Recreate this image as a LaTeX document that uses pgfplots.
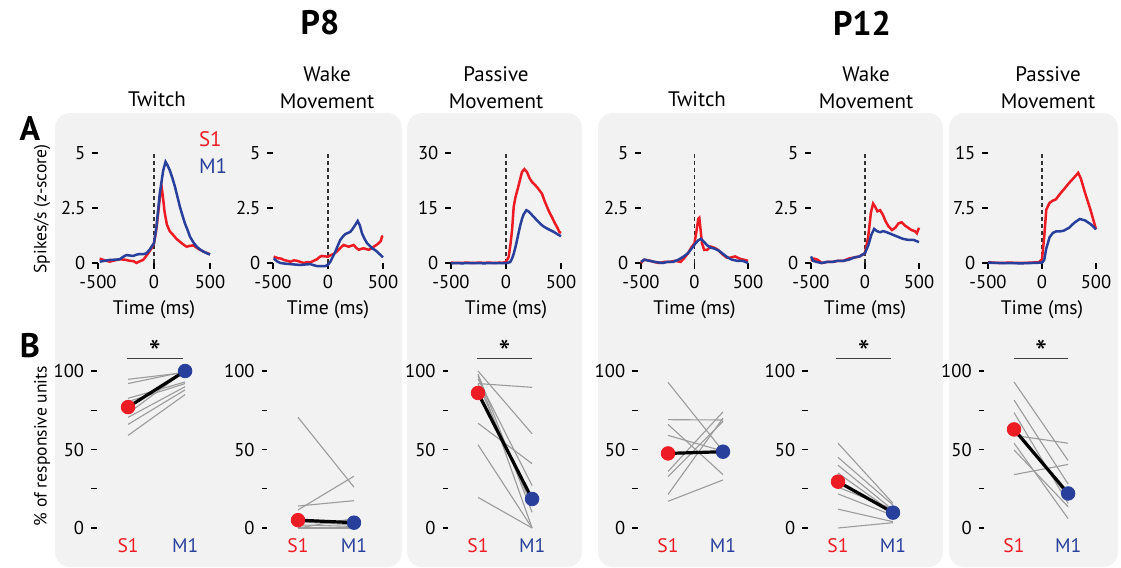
\documentclass[border=0pt]{standalone}
\usepackage{pgfplots}
\pgfplotsset{compat=1.18}
\usepackage{fontspec}
\setmainfont{PT Sans}
\definecolor{sred}{RGB}{237,28,36}
\definecolor{mblue}{RGB}{40,64,156}
\definecolor{panelbg}{RGB}{242,242,242}
\definecolor{indiv}{RGB}{155,155,155}
\tikzset{sigstar/.style={font=\fontsize{17}{18}\selectfont}}
\pgfplotsset{
  base/.style={scale only axis, clip=false, anchor=south west,
    axis x line*=bottom, axis y line*=left, axis line style={draw=none},
    tick style={black, line width=0.6pt}, tick align=outside, major tick length=2.8pt,
    ticklabel style={font=\fontsize{9.3}{10}\selectfont},
    /pgf/number format/assume math mode=true},
  top/.style={base, height=55pt, xmin=-500, xmax=500, ymin=0, xtick={-500,0,500},
    xlabel={Time (ms)}, xlabel style={font=\fontsize{9.8}{11}\selectfont, at={(axis description cs:0.5,0)}, anchor=center, yshift=-23.5pt}},
  bot/.style={base, height=78.5pt, xmin=-0.55, xmax=1, ymin=0, ymax=100,
    xtick={0,1}, xticklabels={{\color{sred}S1},{\color{mblue}M1}},
    xticklabel style={font=\fontsize{9.8}{11}\selectfont, yshift=1pt},
    x tick style={draw=none},
    ytick={0,25,50,75,100}, yticklabels={0,,50,,100}},
  rc/.style={sred, line width=1.25pt},
  bc/.style={mblue, line width=1.25pt},
  zl/.style={black!80, dashed, dash pattern=on 2pt off 1.5pt, line width=0.6pt},
  ind/.style={indiv, line width=0.55pt},
  mn/.style={black, line width=1.6pt},
  rd/.style={only marks, mark=*, mark size=3.4pt, sred, mark options={fill=sred, draw=none}},
  bd/.style={only marks, mark=*, mark size=3.4pt, mblue, mark options={fill=mblue, draw=none}},
}
\begin{document}
\begin{tikzpicture}[x=0.5pt, y=-0.5pt]
\path[use as bounding box] (0,0) rectangle (1121,568);
% panels
\fill[panelbg, rounded corners=7.5pt] (55,113) rectangle (402,567);
\fill[panelbg, rounded corners=7.5pt] (407,113) rectangle (582,567);
\fill[panelbg, rounded corners=7.5pt] (598,113) rectangle (943,567);
\fill[panelbg, rounded corners=7.5pt] (949,113) rectangle (1118,567);
% titles
\node[font=\fontsize{17}{20}\selectfont\bfseries] at (320,23) {P8};
\node[font=\fontsize{17}{20}\selectfont\bfseries] at (862,23) {P12};
\node[font=\fontsize{17}{18}\selectfont\bfseries] at (30,129) {A};
\node[font=\fontsize{17}{18}\selectfont\bfseries] at (30,346) {B};
\begin{scope}[font=\fontsize{10.5}{13}\selectfont]
\node at (157,99) {Twitch};
\node at (327,74) {Wake};
\node at (327,101) {Movement};
\node at (496,74) {Passive};
\node at (496,101) {Movement};
\node at (697,99) {Twitch};
\node at (866,74) {Wake};
\node at (866,101) {Movement};
\node at (1048,74) {Passive};
\node at (1048,101) {Movement};
\node[sred, anchor=west] at (192,139) {S1};
\node[mblue, anchor=west] at (192,166) {M1};
\end{scope}
\node[rotate=90, font=\fontsize{8.8}{10}\selectfont] at (42,209) {Spikes/s (z-score)};
\node[rotate=90, font=\fontsize{8.8}{10}\selectfont] at (42,446) {\% of responsive units};

% ---------- Row A ----------
% P8 twitch
\begin{axis}[top, at={(98*0.5pt,-263*0.5pt)}, width=56pt, ymax=5, ytick={0,2.5,5}]
\addplot[zl] coordinates {(0,0) (0,5.05)};
\addplot[rc] coordinates {(-485,0.2) (-440,0.12) (-396,0.06) (-350,0.12) (-306,0.17) (-260,0.15) (-216,0.1) (-180,0.08) (-157,0.0) (-127,0.08) (-97,0.14) (-75,0.28) (-52,0.44) (-22,0.67) (0,0.9) (20,1.5) (40,2.4) (55,3.1) (67,3.5) (80,3.0) (95,2.3) (115,1.75) (140,1.45) (172,1.27) (200,1.1) (231,0.97) (260,0.85) (291,0.74) (320,0.78) (351,0.8) (380,0.7) (410,0.6) (450,0.5) (500,0.4)};
\addplot[bc] coordinates {(-485,0.06) (-440,0.1) (-396,0.14) (-350,0.15) (-306,0.17) (-270,0.3) (-246,0.36) (-215,0.34) (-187,0.32) (-155,0.38) (-127,0.41) (-97,0.4) (-67,0.44) (-40,0.6) (-22,0.74) (0,0.9) (22,1.65) (52,3.17) (82,4.2) (103,4.6) (120,4.45) (142,4.2) (165,3.85) (187,3.47) (210,3.0) (231,2.56) (255,2.15) (276,1.8) (300,1.5) (321,1.2) (350,0.95) (381,0.74) (410,0.62) (440,0.52) (470,0.45) (500,0.38)};
\end{axis}
% P8 wake
\begin{axis}[top, at={(273*0.5pt,-263*0.5pt)}, width=55pt, ymax=5, ytick={0,2.5,5}]
\addplot[zl] coordinates {(0,0) (0,5.05)};
\addplot[rc] coordinates {(-494,0.29) (-470,0.25) (-448,0.21) (-425,0.2) (-403,0.14) (-370,0.1) (-342,0.06) (-310,0.12) (-282,0.1) (-250,0.05) (-221,0.0) (-190,0.04) (-161,0.03) (-130,0.1) (-100,0.17) (-75,0.28) (-55,0.32) (-30,0.3) (0,0.29) (25,0.36) (52,0.41) (75,0.5) (97,0.6) (120,0.72) (142,0.82) (165,0.78) (188,0.74) (210,0.78) (233,0.82) (255,0.7) (279,0.6) (300,0.64) (324,0.67) (350,0.63) (370,0.6) (395,0.66) (415,0.74) (440,0.82) (461,0.9) (480,1.0) (491,1.2) (500,1.23)};
\addplot[bc] coordinates {(-494,0.21) (-465,0.08) (-433,0.0) (-390,-0.03) (-342,-0.05) (-300,-0.07) (-252,-0.09) (-210,-0.07) (-161,-0.05) (-130,-0.1) (-100,-0.14) (-60,-0.14) (-24,-0.14) (0,-0.08) (21,0.06) (45,0.3) (67,0.52) (90,0.8) (112,1.05) (135,1.2) (158,1.32) (180,1.36) (203,1.42) (220,1.52) (233,1.62) (250,1.75) (270,1.91) (290,1.7) (309,1.35) (330,1.12) (355,0.9) (380,0.78) (400,0.67) (425,0.6) (445,0.52) (470,0.4) (500,0.26)};
\end{axis}
% P8 passive
\begin{axis}[top, at={(451*0.5pt,-263*0.5pt)}, width=55pt, ymax=30, ytick={0,15,30}]
\addplot[zl] coordinates {(0,0) (0,30.3)};
\addplot[rc] coordinates {(-500,0.1) (-450,0.0) (-400,0.05) (-350,0.1) (-300,0.0) (-250,0.1) (-200,0.05) (-150,0.1) (-100,0.0) (-60,0.1) (-30,0.05) (0,0.3) (24,1.6) (40,5.0) (55,8.9) (70,15.3) (85,17.8) (100,19.5) (115,21.2) (130,23.0) (145,24.8) (167,25.6) (191,24.8) (213,23.2) (236,22.1) (260,21.4) (282,20.7) (305,19.8) (327,18.9) (350,17.0) (373,15.3) (395,13.8) (418,12.5) (440,11.1) (464,9.8) (485,8.5) (500,8.2)};
\addplot[bc] coordinates {(-500,-0.1) (-450,0.0) (-400,-0.1) (-350,0.0) (-300,-0.05) (-250,0.0) (-200,-0.1) (-150,0.0) (-100,-0.05) (-50,0.0) (0,0.0) (20,0.05) (39,0.3) (55,1.2) (70,2.5) (85,4.2) (100,6.2) (115,8.3) (130,10.3) (145,12.0) (161,13.3) (185,14.4) (203,14.1) (221,13.6) (245,12.8) (267,12.1) (290,11.4) (312,10.7) (340,10.0) (373,9.4) (400,9.0) (433,8.5) (465,7.9) (500,7.3)};
\end{axis}
% P12 twitch
\begin{axis}[top, at={(641*0.5pt,-263*0.5pt)}, width=53.5pt, ymax=5, ytick={0,2.5,5}]
\addplot[zl] coordinates {(0,0) (0,5.05)};
\addplot[rc] coordinates {(-500,0.0) (-470,0.15) (-430,0.12) (-380,0.05) (-330,0.0) (-280,0.05) (-230,0.05) (-180,0.1) (-130,0.05) (-100,0.2) (-60,0.45) (-30,0.7) (0,0.9) (20,1.5) (35,2.0) (45,2.05) (55,1.6) (70,0.9) (90,0.6) (120,0.6) (150,0.75) (180,0.7) (220,0.6) (260,0.4) (300,0.25) (340,0.25) (380,0.3) (420,0.2) (460,0.15) (500,0.1)};
\addplot[bc] coordinates {(-500,0.05) (-470,0.15) (-420,0.1) (-370,0.05) (-300,0.0) (-250,0.05) (-200,0.05) (-150,0.15) (-100,0.3) (-60,0.45) (-20,0.7) (10,0.9) (40,1.05) (60,1.1) (90,0.95) (120,0.8) (150,0.7) (190,0.65) (230,0.55) (270,0.4) (310,0.25) (350,0.15) (400,0.1) (450,0.1) (500,0.0)};
\end{axis}
% P12 wake
\begin{axis}[top, at={(811*0.5pt,-263*0.5pt)}, width=54pt, ymax=5, ytick={0,2.5,5}]
\addplot[zl] coordinates {(0,0) (0,5.05)};
\addplot[rc] coordinates {(-500,0.1) (-470,0.2) (-440,0.15) (-400,0.0) (-350,0.05) (-300,0.05) (-250,0.1) (-200,0.1) (-150,0.2) (-100,0.25) (-50,0.3) (0,0.45) (30,1.2) (55,2.3) (75,2.7) (95,2.55) (115,2.35) (140,2.4) (165,2.2) (190,1.9) (220,1.65) (250,1.5) (280,1.6) (310,1.8) (340,1.85) (370,1.7) (400,1.6) (430,1.5) (460,1.45) (480,1.35) (500,1.6)};
\addplot[bc] coordinates {(-500,0.3) (-480,0.1) (-450,0.05) (-400,0.0) (-350,0.05) (-300,0.05) (-250,0.1) (-200,0.1) (-150,0.15) (-100,0.25) (-50,0.3) (0,0.45) (30,0.8) (60,1.3) (85,1.55) (110,1.45) (140,1.4) (170,1.45) (200,1.4) (250,1.3) (300,1.2) (350,1.1) (400,1.05) (450,1.05) (500,0.95)};
\end{axis}
% P12 passive
\begin{axis}[top, at={(988*0.5pt,-263*0.5pt)}, width=54pt, ymax=15, ytick={0,7.5,15}]
\addplot[zl] coordinates {(0,0) (0,15.15)};
\addplot[rc] coordinates {(-500,0.1) (-450,0.05) (-400,0.0) (-300,0.05) (-200,0.0) (-100,0.05) (-30,0.1) (0,0.5) (20,3.5) (40,7.3) (70,8.2) (100,8.5) (130,8.7) (160,9.3) (200,10.0) (250,10.9) (300,11.7) (335,12.3) (360,11.5) (400,9.5) (450,7.2) (500,4.6)};
\addplot[bc] coordinates {(-500,0.05) (-400,0.0) (-300,0.0) (-200,-0.05) (-100,0.0) (0,0.05) (20,0.4) (40,2.0) (70,3.5) (100,4.1) (130,4.3) (160,4.3) (200,4.4) (250,4.8) (300,5.5) (350,6.0) (400,5.8) (450,5.3) (500,4.6)};
\end{axis}

% ---------- Row B ----------
% P8 twitch
\begin{axis}[bot, at={(96.7*0.5pt,-528*0.5pt)}, width=44.2pt]
\addplot[ind] coordinates {(0,94.7) (1,99)};
\addplot[ind] coordinates {(0,92) (1,99.6)};
\addplot[ind] coordinates {(0,82.6) (1,93)};
\addplot[ind] coordinates {(0,80.5) (1,92)};
\addplot[ind] coordinates {(0,73) (1,100)};
\addplot[ind] coordinates {(0,70.5) (1,90)};
\addplot[ind] coordinates {(0,66) (1,88)};
\addplot[ind] coordinates {(0,59) (1,85)};
\addplot[mn] coordinates {(0,77) (1,100)};
\addplot[rd] coordinates {(0,77)};
\addplot[bd] coordinates {(1,100)};
\draw[black!75, line width=0.6pt] (axis cs:-0.02,108) -- (axis cs:0.96,108);
\node[sigstar] at (axis cs:0.47,112) {*};
\end{axis}
% P8 wake
\begin{axis}[bot, at={(267.2*0.5pt,-528*0.5pt)}, width=43.4pt]
\addplot[ind] coordinates {(0,70.5) (1,26)};
\addplot[ind] coordinates {(0,11.5) (1,33)};
\addplot[ind] coordinates {(0,14) (1,17.4)};
\addplot[ind] coordinates {(0,0) (1,6)};
\addplot[ind] coordinates {(0,2) (1,1)};
\addplot[ind] coordinates {(0,0) (1,0)};
\addplot[ind] coordinates {(0,4) (1,2)};
\addplot[mn] coordinates {(0,5) (1,3.4)};
\addplot[rd] coordinates {(0,5)};
\addplot[bd] coordinates {(1,3.4)};
\end{axis}
% P8 passive
\begin{axis}[bot, at={(448.3*0.5pt,-528*0.5pt)}, width=41.9pt]
\addplot[ind] coordinates {(0,100) (1,60)};
\addplot[ind] coordinates {(0,98) (1,10)};
\addplot[ind] coordinates {(0,97) (1,0)};
\addplot[ind] coordinates {(0,92) (1,89.6)};
\addplot[ind] coordinates {(0,66.7) (1,41)};
\addplot[ind] coordinates {(0,53) (1,0)};
\addplot[ind] coordinates {(0,19.5) (1,0)};
\addplot[ind] coordinates {(0,95) (1,27)};
\addplot[ind] coordinates {(0,92) (1,14)};
\addplot[mn] coordinates {(0,86) (1,18.5)};
\addplot[rd] coordinates {(0,86)};
\addplot[bd] coordinates {(1,18.5)};
\draw[black!75, line width=0.6pt] (axis cs:-0.02,108) -- (axis cs:1,108);
\node[sigstar] at (axis cs:0.49,112) {*};
\end{axis}
% P12 twitch
\begin{axis}[bot, at={(637.8*0.5pt,-528*0.5pt)}, width=42.6pt]
\addplot[ind] coordinates {(0,92.8) (1,49)};
\addplot[ind] coordinates {(0,69) (1,68.8)};
\addplot[ind] coordinates {(0,66) (1,34)};
\addplot[ind] coordinates {(0,59) (1,49)};
\addplot[ind] coordinates {(0,36) (1,74)};
\addplot[ind] coordinates {(0,32.7) (1,68)};
\addplot[ind] coordinates {(0,21.4) (1,70)};
\addplot[ind] coordinates {(0,17) (1,30.6)};
\addplot[mn] coordinates {(0,47.5) (1,48.6)};
\addplot[rd] coordinates {(0,47.5)};
\addplot[bd] coordinates {(1,48.6)};
\end{axis}
% P12 wake
\begin{axis}[bot, at={(807.8*0.5pt,-528*0.5pt)}, width=42.6pt]
\addplot[ind] coordinates {(0,54) (1,15.7)};
\addplot[ind] coordinates {(0,45) (1,14.6)};
\addplot[ind] coordinates {(0,40) (1,11.5)};
\addplot[ind] coordinates {(0,35) (1,10)};
\addplot[ind] coordinates {(0,26) (1,12)};
\addplot[ind] coordinates {(0,21.7) (1,8)};
\addplot[ind] coordinates {(0,12) (1,4)};
\addplot[ind] coordinates {(0,0) (1,3.4)};
\addplot[mn] coordinates {(0,29.5) (1,9.8)};
\addplot[rd] coordinates {(0,29.5)};
\addplot[bd] coordinates {(1,9.8)};
\draw[black!75, line width=0.6pt] (axis cs:-0.04,108) -- (axis cs:0.96,108);
\node[sigstar] at (axis cs:0.47,112) {*};
\end{axis}
% P12 passive
\begin{axis}[bot, at={(984.3*0.5pt,-528*0.5pt)}, width=41.9pt]
\addplot[ind] coordinates {(0,93) (1,43)};
\addplot[ind] coordinates {(0,81.5) (1,28)};
\addplot[ind] coordinates {(0,73.5) (1,15.7)};
\addplot[ind] coordinates {(0,59) (1,54)};
\addplot[ind] coordinates {(0,54) (1,6)};
\addplot[ind] coordinates {(0,49.7) (1,13.6)};
\addplot[ind] coordinates {(0,34) (1,40.5)};
\addplot[ind] coordinates {(0,64.5) (1,20)};
\addplot[mn] coordinates {(0,62.8) (1,22)};
\addplot[rd] coordinates {(0,62.8)};
\addplot[bd] coordinates {(1,22)};
\draw[black!75, line width=0.6pt] (axis cs:0,108) -- (axis cs:1,108);
\node[sigstar] at (axis cs:0.5,112) {*};
\end{axis}
\end{tikzpicture}
\end{document}
